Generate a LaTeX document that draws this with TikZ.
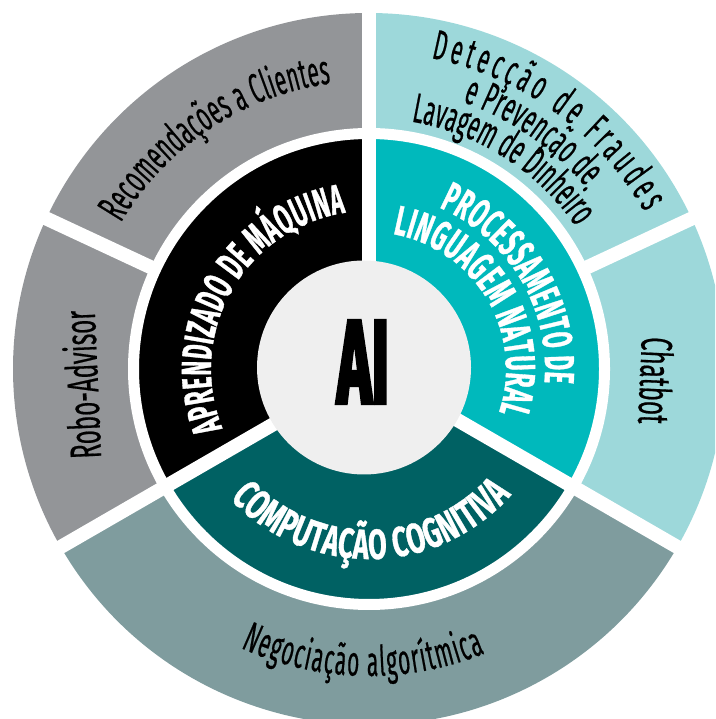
\documentclass[tikz,border=0pt]{standalone}
\usepackage{fontspec}
\setmainfont{Fira Sans}
\newfontfamily\outerfont{Fira Sans}[FakeStretch=0.5, FakeBold=0.4]
\newfontfamily\straightfont{Fira Sans}[FakeStretch=0.55, FakeBold=0.4]
\newfontfamily\innerbase{Fira Sans}[FakeBold=0.8]
\newfontfamily\aifont{Fira Sans}[FakeStretch=0.49, FakeBold=2.5]
\newlength\lblw
\newcommand\mkinnerfont[3]{%
  \settowidth\lblw{\innerbase\bfseries\fontsize{42}{42}\selectfont #2}%
  \edef\tmpratio{\fpeval{round(0.96*(#3)/\lblw,4)}}%
  \edef\tmpcmd{\noexpand\newfontfamily\noexpand#1{Fira Sans}[FakeStretch=\tmpratio,FakeBold=0.8]}%
  \tmpcmd}
\mkinnerfont{\fontAM}{APRENDIZADO DE MÁQUINA}{103.5*158*pi/180}
\mkinnerfont{\fontPD}{PROCESSAMENTO DE}{71*176*pi/180}
\mkinnerfont{\fontLN}{LINGUAGEM NATURAL}{98.4*137*pi/180}
\mkinnerfont{\fontCC}{COMPUTAÇÃO COGNITIVA}{95.5*190*pi/180}
\usetikzlibrary{decorations.text}
\definecolor{cgray}{HTML}{939598}
\definecolor{cltteal}{HTML}{9DD8DA}
\definecolor{cgrayteal}{HTML}{7F9C9E}
\definecolor{cteal}{HTML}{00B9BC}
\definecolor{cdkteal}{HTML}{006163}
\definecolor{caigray}{HTML}{EFEFEF}
\tikzset{
  gapline/.style={white, line width=14pt},
  ringgap/.style={white, line width=11pt},
  innerlbl/.style 2 args={decorate, decoration={text along path, text align={fit to path}, text color=white,
     text={|#1\bfseries\fontsize{42}{42}\selectfont|#2}}},
  outerlbl/.style={decorate, decoration={text along path, text align={fit to path}, text color=black,
     text={|\outerfont\fontsize{42}{42}\selectfont|#1}}},
  straightlbl/.style={inner sep=0pt, anchor=base, font=\straightfont\fontsize{44}{44}\selectfont},
}
\begin{document}
\begin{tikzpicture}[x=1pt,y=1pt]
\useasboundingbox (0,0) rectangle (715,719);
\clip (0,0) rectangle (715,719);
\begin{scope}[shift={(369,350)}]
  % outer ring sectors
  \fill[cgray] (0,0) -- (90:356) arc[start angle=90,end angle=210,radius=356] -- cycle;
  \fill[cgrayteal] (0,0) -- (210:356) arc[start angle=210,end angle=330,radius=356] -- cycle;
  \fill[cltteal] (0,0) -- (-30:356) arc[start angle=-30,end angle=90,radius=356] -- cycle;
  % inner ring sectors
  \fill[black] (0,0) -- (90:233) arc[start angle=90,end angle=210,radius=233] -- cycle;
  \fill[cdkteal] (0,0) -- (210:233) arc[start angle=210,end angle=330,radius=233] -- cycle;
  \fill[cteal] (0,0) -- (-30:233) arc[start angle=-30,end angle=90,radius=233] -- cycle;
  % gaps
  \draw[ringgap] (0,0) circle[radius=235.5];
  \foreach \a in {90,210,330} \draw[gapline] (0,0) -- (\a:380);
  \foreach \a in {25,155} \draw[gapline] (\a:232) -- (\a:380);
  % centre
  \fill[caigray] (-5,1.5) circle[radius=107];
  \node[inner sep=0pt, font=\aifont\bfseries\fontsize{120}{120}\selectfont] (ai) at (-6,7) {AI};
  % inner labels
  \path[innerlbl={\fontAM}{APRENDIZADO DE MÁQUINA}] (202:158) arc[start angle=202,end angle=98.5,radius=158];
  \path[innerlbl={\fontPD}{PROCESSAMENTO DE}] (66.5:176) arc[start angle=66.5,end angle=-4.5,radius=176];
  \path[innerlbl={\fontLN}{LINGUAGEM NATURAL}] (80:137) arc[start angle=80,end angle=-18.4,radius=137];
  \path[innerlbl={\fontCC}{COMPUTAÇÃO COGNITIVA}] (223:190) arc[start angle=223,end angle=318.5,radius=190];
  % outer labels
  \path[outerlbl={Recomendações a Clientes}] (149.5:288) arc[start angle=149.5,end angle=97.6,radius=288];
  \path[outerlbl={Detecção de Fraudes}] (78.7:317) arc[start angle=78.7,end angle=29.7,radius=317];
  \path[outerlbl={e Prevenção de}] (70.7:283) arc[start angle=70.7,end angle=40.1,radius=283];
  \path[outerlbl={Lavagem de Dinheiro}] (80.3:251) arc[start angle=80.3,end angle=34.5,radius=251];
  \path[outerlbl={Negociação algorítmica}] (245.3:307) arc[start angle=245.3,end angle=292.2,radius=307];
  \node[straightlbl, rotate=-92.5] (chatbot) at (271,-11) {Chatbot};
  \node[straightlbl, rotate=92.5] (robo) at (-271,-15) {Robo-Advisor};
\end{scope}
\end{tikzpicture}
\end{document}
